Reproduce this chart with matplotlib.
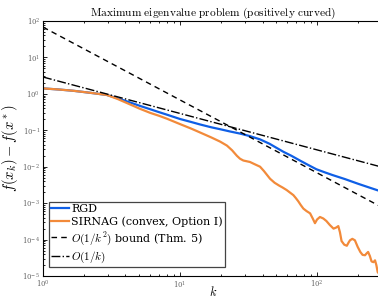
import matplotlib
matplotlib.use("Agg")
import matplotlib.pyplot as plt
import numpy as np

plt.rcParams['mathtext.fontset'] = 'cm'
plt.rcParams['font.family'] = 'serif'
plt.rcParams['font.serif'] = ['DejaVu Serif']

# data (log10 of f(x_k) - f(x*))
k_rgd = [1, 1.3, 1.66, 2.2, 2.92, 3.5, 4.2, 5.1, 6.04, 7, 8, 10, 12, 14, 17, 19.6, 23,
         27.4, 32.4, 38.4, 45, 50, 56.8, 65, 75, 86, 99, 115, 130, 160, 200, 240, 273, 300]
log_rgd = [0.15, 0.12, 0.085, 0.03, -0.03, -0.12, -0.22, -0.33, -0.42, -0.5, -0.57,
           -0.69, -0.77, -0.84, -0.92, -0.97, -1.03, -1.09, -1.16, -1.25, -1.37, -1.47,
           -1.59, -1.7, -1.83, -1.95, -2.07, -2.16, -2.23, -2.34, -2.47, -2.57, -2.64,
           -2.69]

k_sir = [1, 1.3, 1.66, 2.2, 2.92, 3.5, 4.2, 5.1, 6.04, 7, 8, 10, 12, 14, 17, 19.6, 22, 24,
         26, 27.4, 29, 32.4, 35, 38.4, 41, 45.4, 49, 53, 56, 60, 64, 67.2, 70, 73, 76,
         79.5, 84, 89, 93, 96.6, 100, 105, 111, 117, 124, 132, 138, 143, 147, 151, 158,
         165, 170, 174, 181, 189, 198, 207, 215, 224, 230, 236, 243, 250, 258, 265,
         271, 277, 285, 292]
log_sir = [0.15, 0.12, 0.085, 0.03, -0.03, -0.14, -0.27, -0.41, -0.52, -0.6, -0.68,
           -0.83, -0.95, -1.06, -1.2, -1.31, -1.42, -1.55, -1.7, -1.78, -1.83, -1.87,
           -1.93, -2.0, -2.12, -2.33, -2.44, -2.52, -2.57, -2.64, -2.72, -2.78, -2.86,
           -2.95, -3.05, -3.15, -3.22, -3.28, -3.42, -3.55, -3.45, -3.38, -3.42, -3.49,
           -3.6, -3.7, -3.67, -3.63, -3.8, -4.04, -4.14, -4.17, -4.08, -4.02, -3.98,
           -4.02, -4.2, -4.34, -4.42, -4.43, -4.38, -4.34, -4.45, -4.6, -4.62, -4.57,
           -4.7, -4.89, -4.95, -5.0]

c_sq = 68.0   # constant of O(1/k^2) bound
c_lin = 2.9   # constant of O(1/k)
k_ref = np.arange(1, 301)

fig = plt.figure(figsize=(3.78, 2.98), dpi=100)
ax = fig.add_axes([43 / 378, 22 / 298, (382.4 - 43) / 378, 255 / 298])

ax.plot(k_rgd, 10 ** np.array(log_rgd), color='#0f5fe6', lw=1.6,
        solid_joinstyle='round', label='RGD')
ax.plot(k_sir, 10 ** np.array(log_sir), color='#f28a3a', lw=1.6,
        solid_joinstyle='round', label='SIRNAG (convex, Option I)')
ax.plot(k_ref, c_sq / k_ref ** 2, color='k', ls=(0, (4, 3)), lw=1.0,
        label=r'$O(1/k^2)$ bound (Thm. 5)')
ax.plot(k_ref, c_lin / k_ref, 'k-.', lw=1.0, label=r'$O(1/k)$')

ax.set_xscale('log')
ax.set_yscale('log')
ax.set_xlim(1, 300)
ax.set_ylim(1e-5, 1e2)

ax.tick_params(which='both', direction='in', top=True, right=True,
               labelsize=5, labelcolor='#666666', width=0.6, pad=2)
ax.tick_params(which='major', length=3)
ax.tick_params(which='minor', length=1.6)
ax.yaxis.set_minor_locator(matplotlib.ticker.LogLocator(subs=np.arange(2, 10), numticks=20))
ax.yaxis.set_minor_formatter(matplotlib.ticker.NullFormatter())
for s in ax.spines.values():
    s.set_linewidth(0.8)

ax.set_title(r'$\mathrm{Maximum\ eigenvalue\ problem\ (positively\ curved)}$',
             fontsize=8.2, pad=4)
ax.set_xlabel(r'$k$', fontsize=9)
ax.xaxis.set_label_coords(0.5, -0.035)
ax.set_ylabel(r'$f(x_k)-f(x^*)$', fontsize=10.5)
ax.yaxis.set_label_coords(-0.068, 0.5)

leg = ax.legend(loc='lower left', bbox_to_anchor=(0.018, 0.035),
                handlelength=1.6, handletextpad=0.2, borderpad=0.2,
                labelspacing=0.25, borderaxespad=0, fancybox=False,
                framealpha=1, prop={'family': 'serif', 'size': 8})
leg.get_frame().set_edgecolor('#444444')
leg.get_frame().set_linewidth(0.9)

fig.savefig('out.png', dpi=100)
